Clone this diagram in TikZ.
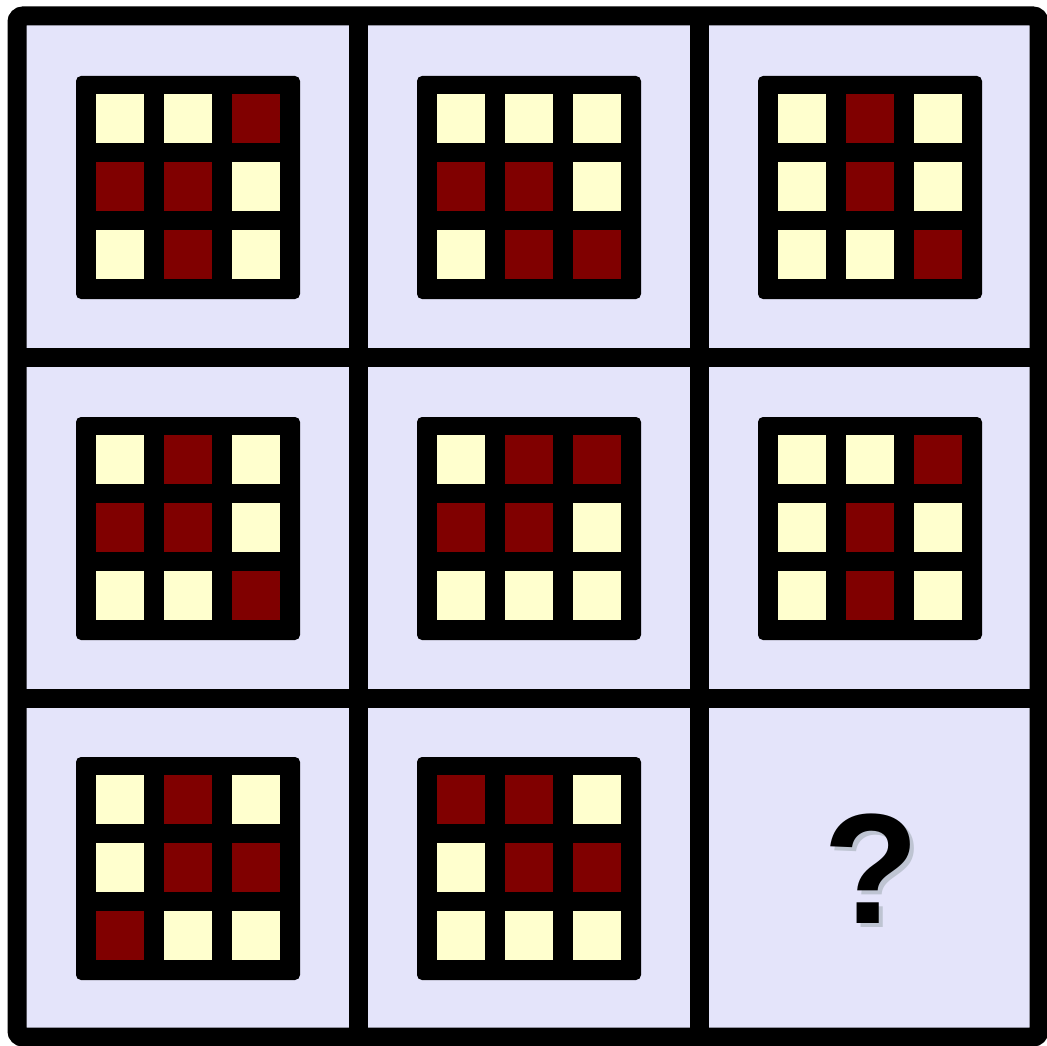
\documentclass[tikz,border=0pt]{standalone}
\usepackage{fontspec}
\setsansfont{Liberation Sans}
\definecolor{lavender}{RGB}{228,228,250}
\definecolor{sq0}{RGB}{255,255,206}
\definecolor{sq1}{RGB}{128,0,0}
\definecolor{qgray}{RGB}{190,196,210}
\begin{document}
\begin{tikzpicture}[x=1pt,y=-1pt]
	\tikzset{frameline/.style={line width=19pt,black},
		boardbox/.style={fill=black,rounded corners=5pt},
		tile/.style={fill=sq#1},
		qstyle/.style={font=\fontsize{157}{160}\selectfont\sffamily\bfseries,inner sep=0pt,anchor=base}};
	\useasboundingbox (0,0) rectangle (1047,1046);
	\fill[lavender] (17,16) rectangle (1039,1037);
	% the eight boards, 1 = dark square
	\foreach \cx/\cy/\pat in {188/187/{0,0,1,1,1,0,0,1,0}, 529/187/{0,0,0,1,1,0,0,1,1}, 870/187/{0,1,0,0,1,0,0,0,1},
		188/528/{0,1,0,1,1,0,0,0,1}, 529/528/{0,1,1,1,1,0,0,0,0}, 870/528/{0,0,1,0,1,0,0,1,0},
		188/868/{0,1,0,0,1,1,1,0,0}, 529/868/{1,1,0,0,1,1,0,0,0}} {
		\fill[boardbox] (\cx-112,\cy-111) rectangle (\cx+112,\cy+112);
		\foreach \v [count=\k from 0] in \pat {
			\pgfmathtruncatemacro\col{mod(\k,3)}
			\pgfmathtruncatemacro\row{div(\k,3)}
			\fill[tile=\v] (\cx-92+68*\col,\cy-93+68*\row) rectangle ++(48,49);
		}
	}
	\node[qstyle,text=qgray] (qshadow) at (875,927) {?};
	\node[qstyle] (qmark) at (871,923) {?};
	% frame and dividers
	\draw[frameline] (358,16) -- (358,1037);
	\draw[frameline] (699,16) -- (699,1037);
	\draw[frameline] (17,357) -- (1039,357);
	\draw[frameline] (17,698) -- (1039,698);
	\draw[frameline,rounded corners=6pt] (17,16) rectangle (1039,1037);
\end{tikzpicture}
\end{document}
